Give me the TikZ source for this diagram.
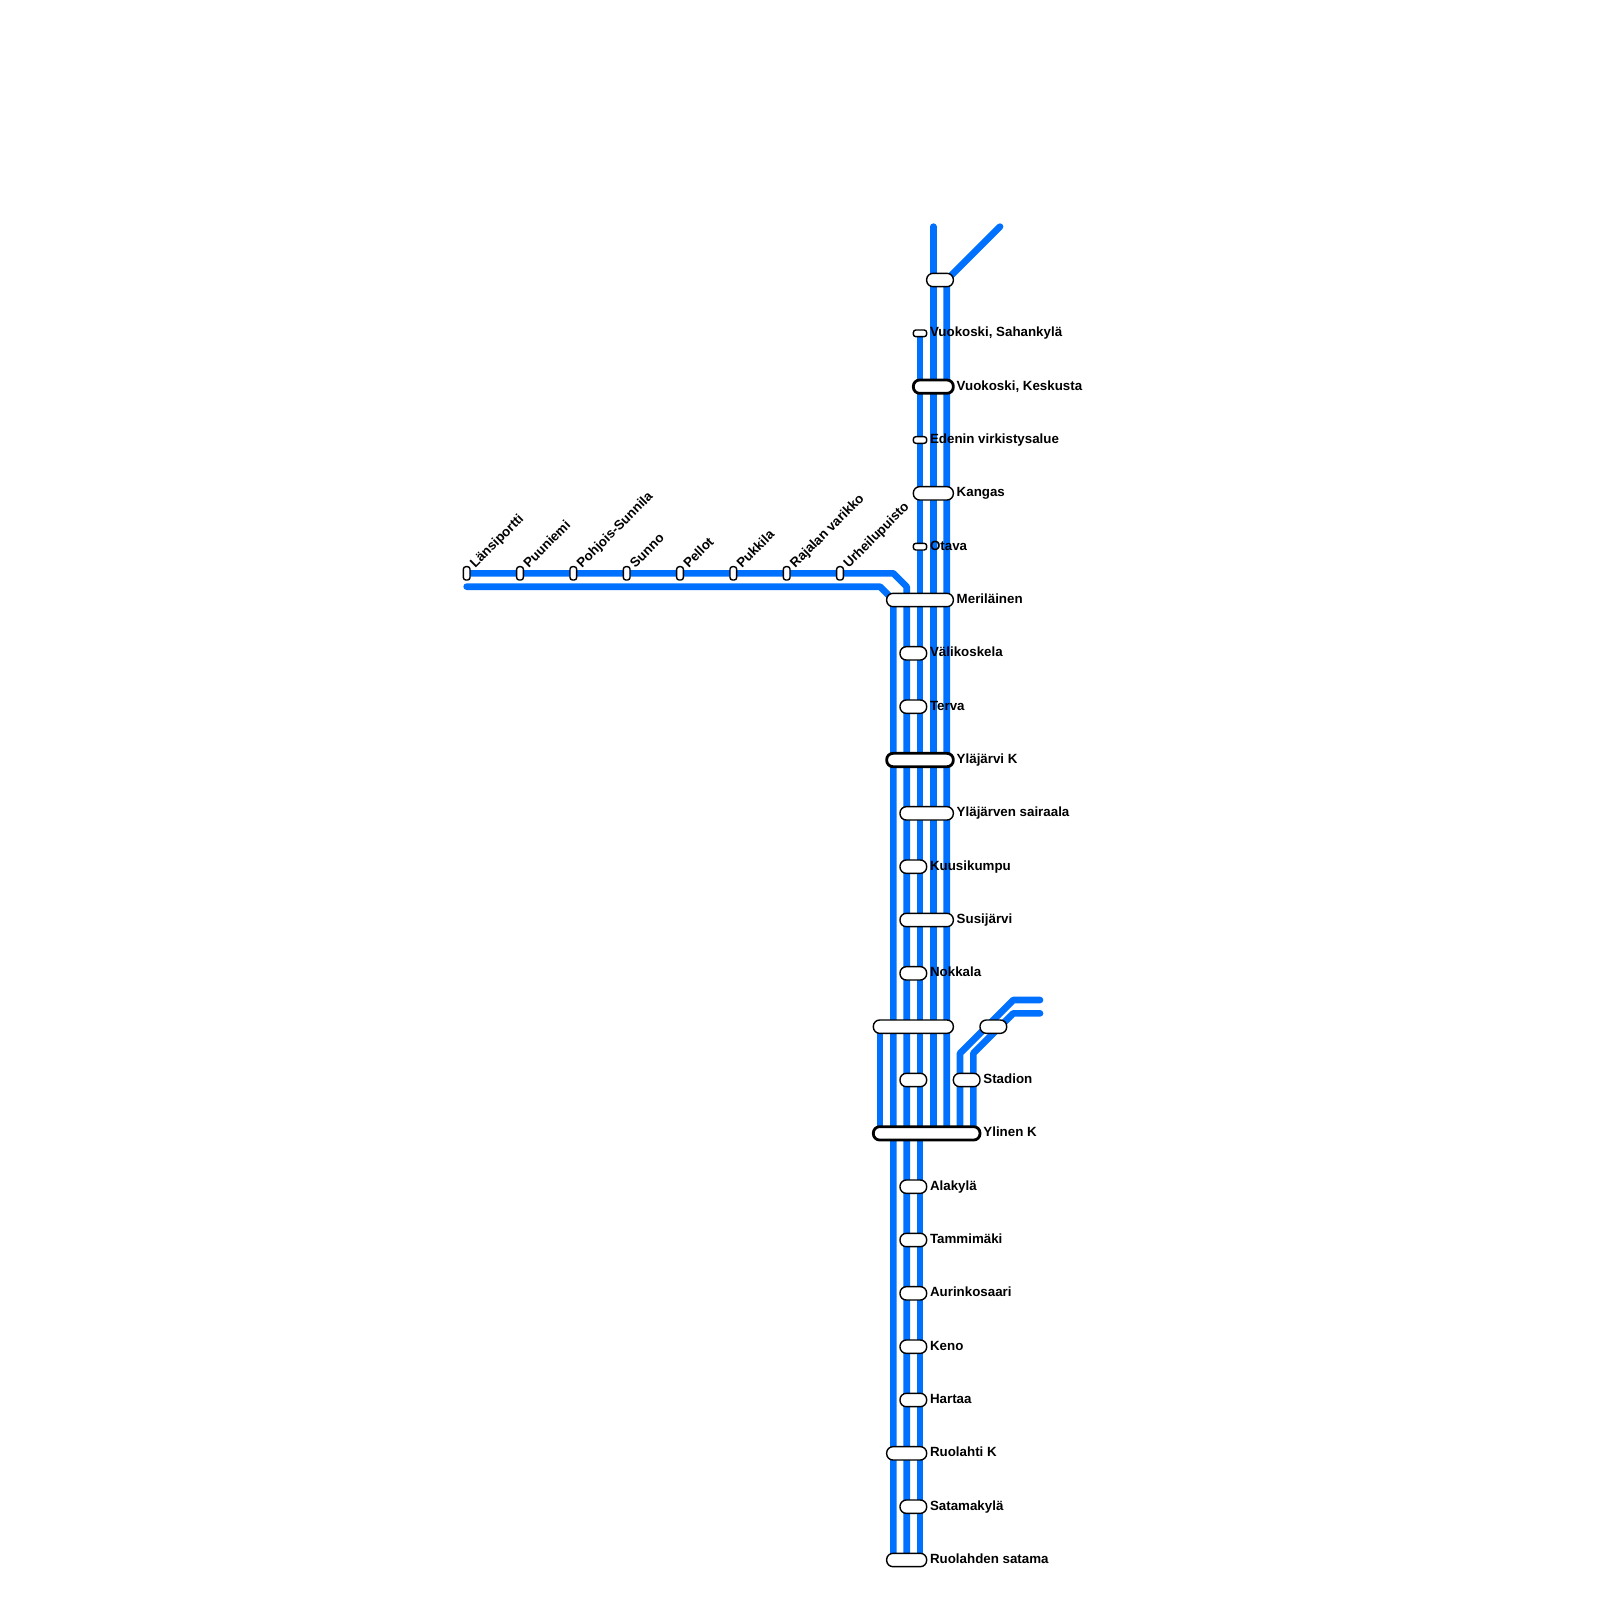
\documentclass[tikz,border=0pt]{standalone}
\usepackage{fontspec}
\setmainfont{Liberation Sans}
\usetikzlibrary{positioning}
\definecolor{lineblue}{RGB}{0,112,255}

\begin{document}
\begin{tikzpicture}[
    x=13.3333pt, y=-13.3333pt,
    track/.style={draw=lineblue, line width=6.67pt, line cap=round, line join=round},
    pill/.style={draw=black, fill=white, rounded corners=6.3pt, line width=1.4pt,
        minimum width=#1*13.3333pt, minimum height=13.33pt, inner sep=0pt, outer sep=0pt},
    hub/.style={pill=#1, line width=2.8pt},
    stopv/.style={draw=black, fill=white, rounded corners=2.5pt, line width=1.4pt,
        minimum width=13.33pt, minimum height=6.67pt, inner sep=0pt, outer sep=0pt},
    stoph/.style={draw=black, fill=white, rounded corners=2.5pt, line width=1.4pt,
        minimum width=6.67pt, minimum height=13.33pt, inner sep=0pt, outer sep=0pt},
    lbl/.style={font=\bfseries\fontsize{13.33}{16}\selectfont, inner sep=0pt, anchor=west,
        text height=10.5pt, text depth=3.5pt},
    lblup/.style={font=\bfseries\fontsize{13.33}{16}\selectfont, inner sep=0pt,
        rotate=45, anchor=base west}
]

\useasboundingbox (0,0) rectangle (120,120);

% line ends and bends
\coordinate (northa) at (70,17);
\coordinate (northb) at (75,17);
\coordinate (bendb) at (71,21);
\coordinate (southa) at (70,85);
\coordinate (southb) at (71,85);
\coordinate (vuotop) at (69,25);
\coordinate (vuoend) at (69,117);
\coordinate (westa) at (35,43);
\coordinate (westa1) at (67,43);
\coordinate (westa2) at (68,44);
\coordinate (westaend) at (68,117);
\coordinate (westb) at (35,44);
\coordinate (westb1) at (66,44);
\coordinate (westb2) at (67,45);
\coordinate (westbend) at (67,117);
\coordinate (shorttop) at (66,77);
\coordinate (shortend) at (66,85);
\coordinate (easta) at (78,75);
\coordinate (easta1) at (76,75);
\coordinate (easta2) at (72,79);
\coordinate (eastaend) at (72,85);
\coordinate (eastb) at (78,76);
\coordinate (eastb1) at (76,76);
\coordinate (eastb2) at (73,79);
\coordinate (eastbend) at (73,85);

\draw[track] (northa) -- (southa);
\draw[track] (northb) -- (bendb) -- (southb);
\draw[track] (vuotop) -- (vuoend);
\draw[track] (westa) -- (westa1) -- (westa2) -- (westaend);
\draw[track] (westb) -- (westb1) -- (westb2) -- (westbend);
\draw[track] (shorttop) -- (shortend);
\draw[track] (easta) -- (easta1) -- (easta2) -- (eastaend);
\draw[track] (eastb) -- (eastb1) -- (eastb2) -- (eastbend);

% vertical stations
\node[pill=2] (s21) at (70.5,21) {};
\node[stopv] (s25) at (69,25) {};
\node[lbl, right=3.2pt of s25] (t25) {Vuokoski, Sahankylä};
\node[hub=3] (s29) at (70,29) {};
\node[lbl, right=3.2pt of s29] (t29) {Vuokoski, Keskusta};
\node[stopv] (s33) at (69,33) {};
\node[lbl, right=3.2pt of s33] (t33) {Edenin virkistysalue};
\node[pill=3] (s37) at (70,37) {};
\node[lbl, right=3.2pt of s37] (t37) {Kangas};
\node[stopv] (s41) at (69,41) {};
\node[lbl, right=3.2pt of s41] (t41) {Otava};
\node[pill=5] (s45) at (69,45) {};
\node[lbl, right=3.2pt of s45] (t45) {Meriläinen};
\node[pill=2] (s49) at (68.5,49) {};
\node[lbl, right=3.2pt of s49] (t49) {Välikoskela};
\node[pill=2] (s53) at (68.5,53) {};
\node[lbl, right=3.2pt of s53] (t53) {Terva};
\node[hub=5] (s57) at (69,57) {};
\node[lbl, right=3.2pt of s57] (t57) {Yläjärvi K};
\node[pill=4] (s61) at (69.5,61) {};
\node[lbl, right=3.2pt of s61] (t61) {Yläjärven sairaala};
\node[pill=2] (s65) at (68.5,65) {};
\node[lbl, right=3.2pt of s65] (t65) {Kuusikumpu};
\node[pill=4] (s69) at (69.5,69) {};
\node[lbl, right=3.2pt of s69] (t69) {Susijärvi};
\node[pill=2] (s73) at (68.5,73) {};
\node[lbl, right=3.2pt of s73] (t73) {Nokkala};
\node[pill=6] (s77) at (68.5,77) {};
\node[pill=2] (s77e) at (74.5,77) {};
\node[pill=2] (s81) at (68.5,81) {};
\node[pill=2] (s81e) at (72.5,81) {};
\node[lbl, right=3.2pt of s81e] (t81e) {Stadion};
\node[hub=8] (s85) at (69.5,85) {};
\node[lbl, right=3.2pt of s85] (t85) {Ylinen K};
\node[pill=2] (s89) at (68.5,89) {};
\node[lbl, right=3.2pt of s89] (t89) {Alakylä};
\node[pill=2] (s93) at (68.5,93) {};
\node[lbl, right=3.2pt of s93] (t93) {Tammimäki};
\node[pill=2] (s97) at (68.5,97) {};
\node[lbl, right=3.2pt of s97] (t97) {Aurinkosaari};
\node[pill=2] (s101) at (68.5,101) {};
\node[lbl, right=3.2pt of s101] (t101) {Keno};
\node[pill=2] (s105) at (68.5,105) {};
\node[lbl, right=3.2pt of s105] (t105) {Hartaa};
\node[pill=3] (s109) at (68,109) {};
\node[lbl, right=3.2pt of s109] (t109) {Ruolahti K};
\node[pill=2] (s113) at (68.5,113) {};
\node[lbl, right=3.2pt of s113] (t113) {Satamakylä};
\node[pill=3] (s117) at (68,117) {};
\node[lbl, right=3.2pt of s117] (t117) {Ruolahden satama};

% western branch
\node[stoph] (w35) at (35,43) {};
\node[lblup] (u35) at (35.65,42.65) {Länsiportti};
\node[stoph] (w39) at (39,43) {};
\node[lblup] (u39) at (39.65,42.65) {Puuniemi};
\node[stoph] (w43) at (43,43) {};
\node[lblup] (u43) at (43.65,42.65) {Pohjois-Sunnila};
\node[stoph] (w47) at (47,43) {};
\node[lblup] (u47) at (47.65,42.65) {Sunno};
\node[stoph] (w51) at (51,43) {};
\node[lblup] (u51) at (51.65,42.65) {Pellot};
\node[stoph] (w55) at (55,43) {};
\node[lblup] (u55) at (55.65,42.65) {Pukkila};
\node[stoph] (w59) at (59,43) {};
\node[lblup] (u59) at (59.65,42.65) {Rajalan varikko};
\node[stoph] (w63) at (63,43) {};
\node[lblup] (u63) at (63.65,42.65) {Urheilupuisto};

\end{tikzpicture}
\end{document}
